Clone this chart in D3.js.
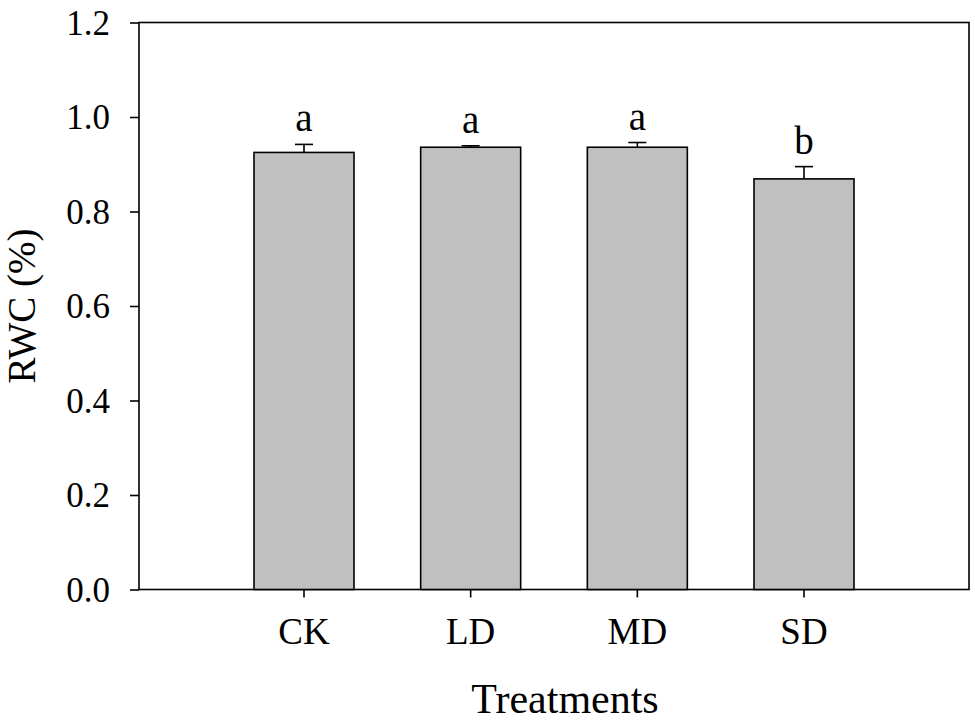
<!DOCTYPE html>
<html>
<head>
<meta charset="utf-8">
<script src="https://cdn.jsdelivr.net/npm/d3@7"></script>
<style>
  body { margin: 0; background: #fff; }
  svg text { font-family: "Liberation Serif", "Times New Roman", serif; fill: #000; }
</style>
</head>
<body>
<div id="chart"></div>
<script>
// data
const treatments = ["CK", "LD", "MD", "SD"];
const rwcMeans = [0.925, 0.936, 0.936, 0.869];
const rwcErrors = [0.017, 0.003, 0.010, 0.026];
const sigLetters = ["a", "a", "a", "b"];
const yTicks = [0.0, 0.2, 0.4, 0.6, 0.8, 1.0, 1.2];

const data = treatments.map((t, i) => ({ t, mean: rwcMeans[i], err: rwcErrors[i], letter: sigLetters[i] }));

const width = 975, height = 722;
const margin = { top: 22.5, right: 6, bottom: 132.5, left: 139 };

const svg = d3.select("#chart").append("svg")
  .attr("width", width)
  .attr("height", height);

// x scale: bands with wide outer padding so the bars sit in the middle
const x = d3.scaleBand()
  .domain(treatments)
  .range([margin.left, width - margin.right])
  .paddingInner(0.4)
  .paddingOuter(0.69);

const y = d3.scaleLinear()
  .domain([0, 1.2])
  .range([height - margin.bottom, margin.top]);

// plot frame
svg.append("rect")
  .attr("x", margin.left)
  .attr("y", margin.top)
  .attr("width", width - margin.right - margin.left)
  .attr("height", height - margin.bottom - margin.top)
  .attr("fill", "none")
  .attr("stroke", "#000")
  .attr("stroke-width", 1.6);

// bars
svg.append("g").selectAll("rect")
  .data(data)
  .join("rect")
  .attr("x", d => x(d.t))
  .attr("y", d => y(d.mean))
  .attr("width", x.bandwidth())
  .attr("height", d => y(0) - y(d.mean))
  .attr("fill", "#c0c0c0")
  .attr("stroke", "#000")
  .attr("stroke-width", 1.6);

// error bars (upper only)
const eb = svg.append("g").selectAll("g")
  .data(data)
  .join("g")
  .attr("stroke", "#000")
  .attr("stroke-width", 1.6);
eb.append("line")
  .attr("x1", d => x(d.t) + x.bandwidth() / 2)
  .attr("x2", d => x(d.t) + x.bandwidth() / 2)
  .attr("y1", d => y(d.mean))
  .attr("y2", d => y(d.mean + d.err));
eb.append("line")
  .attr("x1", d => x(d.t) + x.bandwidth() / 2 - 9)
  .attr("x2", d => x(d.t) + x.bandwidth() / 2 + 9)
  .attr("y1", d => y(d.mean + d.err))
  .attr("y2", d => y(d.mean + d.err));

// significance letters
svg.append("g").selectAll("text")
  .data(data)
  .join("text")
  .attr("x", d => x(d.t) + x.bandwidth() / 2)
  .attr("y", d => y(d.mean + d.err) - 13)
  .attr("text-anchor", "middle")
  .style("font-size", "39px")
  .text(d => d.letter);

// y axis
const yAxis = d3.axisLeft(y)
  .tickValues(yTicks)
  .tickFormat(d3.format(".1f"))
  .tickSize(9)
  .tickPadding(20);
const gy = svg.append("g")
  .attr("transform", `translate(${margin.left},0)`)
  .call(yAxis);
gy.select(".domain").remove();
gy.selectAll(".tick line").attr("stroke", "#000").attr("stroke-width", 1.6);
gy.selectAll(".tick text").style("font-size", "35px").attr("dy", "0.34em");

// x axis
const xAxis = d3.axisBottom(x).tickSize(8).tickPadding(20);
const gx = svg.append("g")
  .attr("transform", `translate(0,${height - margin.bottom})`)
  .call(xAxis);
gx.select(".domain").remove();
gx.selectAll(".tick line").attr("stroke", "#000").attr("stroke-width", 1.6);
gx.selectAll(".tick text").style("font-size", "37px");

// axis titles
svg.append("text")
  .attr("transform", `translate(35,${(margin.top + height - margin.bottom) / 2}) rotate(-90)`)
  .attr("text-anchor", "middle")
  .style("font-size", "39px")
  .text("RWC (%)");

svg.append("text")
  .attr("x", 565)
  .attr("y", 713)
  .attr("text-anchor", "middle")
  .style("font-size", "42px")
  .text("Treatments");
</script>
</body>
</html>
